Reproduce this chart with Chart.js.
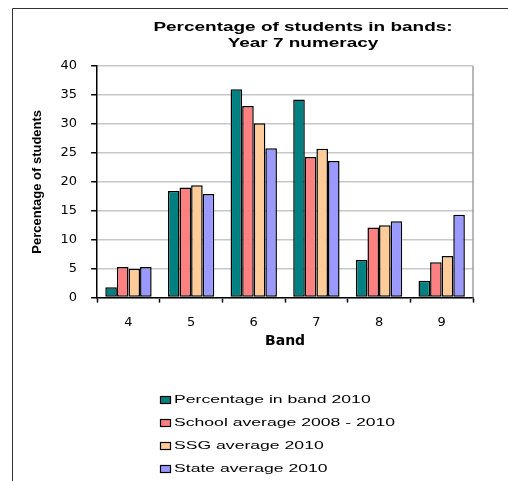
<!DOCTYPE html>
<html>
<head>
<meta charset="utf-8">
<title>Year 7 numeracy bands</title>
<script src="https://cdn.jsdelivr.net/npm/chart.js@4"></script>
<style>
  body { margin: 0; background: #fff; }
  #wrap { position: relative; width: 508px; height: 481px; }
</style>
</head>
<body>
<div id="wrap"><canvas id="bandChart" width="508" height="481"></canvas></div>
<script>
// Bands and percentage of students per series
var bands = ['4', '5', '6', '7', '8', '9'];
var seriesNames = ['Percentage in band 2010', 'School average 2008 - 2010', 'SSG average 2010', 'State average 2010'];
var bandPct2010 = [1.8, 18.4, 36.0, 34.2, 6.5, 2.9];
var schoolAvg = [5.3, 19.0, 33.1, 24.3, 12.1, 6.1];
var ssgAvg = [5.0, 19.4, 30.1, 25.7, 12.5, 7.2];
var stateAvg = [5.3, 17.9, 25.8, 23.6, 13.2, 14.3];
var yMin = 0, yMax = 40, yStep = 5;
var titleLines = ['Percentage of students in bands:', 'Year 7 numeracy'];

var seriesColors = ['#008080', '#FF8080', '#FFCC99', '#9999FF'];
var seriesData = [bandPct2010, schoolAvg, ssgAvg, stateAvg];

// text drawn wide, the way the old spreadsheet export renders it
function wideText(ctx, text, x, y, sx, align) {
  ctx.save();
  ctx.translate(x, y);
  ctx.scale(sx, 1);
  ctx.textAlign = align;
  ctx.textBaseline = 'middle';
  ctx.fillText(text, 0, 0);
  ctx.restore();
}

var decorations = {
  id: 'decorations',
  beforeDraw: function (chart) {
    var ctx = chart.ctx;
    ctx.save();
    ctx.strokeStyle = '#333';
    ctx.lineWidth = 1;
    ctx.beginPath();
    ctx.moveTo(12.5, chart.height);
    ctx.lineTo(12.5, 8.5);
    ctx.lineTo(chart.width, 8.5);
    ctx.stroke();
    ctx.restore();
  },
  beforeDatasetsDraw: function (chart) {
    var a = chart.chartArea, ctx = chart.ctx;
    ctx.save();
    ctx.strokeStyle = '#a0a0a0';
    ctx.lineWidth = 1.5;
    ctx.beginPath();
    ctx.moveTo(a.right, a.top);
    ctx.lineTo(a.right, a.bottom);
    ctx.stroke();
    ctx.restore();
  },
  afterDraw: function (chart) {
    var ctx = chart.ctx;
    ctx.save();
    ctx.fillStyle = '#000';
    ctx.font = 'bold 12px "Liberation Sans", Arial, sans-serif';
    wideText(ctx, titleLines[0], 303, 28, 1.58, 'center');
    wideText(ctx, titleLines[1], 303, 44, 1.58, 'center');

    // legend, one row per series
    ctx.font = '11px "Liberation Sans", Arial, sans-serif';
    chart.data.datasets.forEach(function (ds, i) {
      var y = 400 + i * 23;
      ctx.fillStyle = ds.backgroundColor;
      ctx.fillRect(160.5, y - 3.5, 10, 7);
      ctx.strokeStyle = '#000';
      ctx.lineWidth = 1.2;
      ctx.strokeRect(160.5, y - 3.5, 10, 7);
      ctx.fillStyle = '#000';
      wideText(ctx, ds.label, 174, y, 1.6, 'left');
    });
    ctx.restore();
  }
};

Chart.defaults.color = '#000';

var ctx = document.getElementById('bandChart').getContext('2d');
var bandChart = new Chart(ctx, {
  type: 'bar',
  data: {
    labels: bands,
    datasets: seriesNames.map(function (name, i) {
      return {
        label: name,
        data: seriesData[i],
        backgroundColor: seriesColors[i],
        borderColor: '#000',
        borderWidth: 1.5,
        borderSkipped: false,
        categoryPercentage: 0.74,
        barPercentage: 1.0
      };
    })
  },
  options: {
    responsive: false,
    animation: false,
    layout: { padding: { left: 20, right: 35, top: 66, bottom: 131 } },
    plugins: {
      legend: { display: false },
      tooltip: { enabled: false },
      title: { display: false }
    },
    scales: {
      x: {
        grid: { drawOnChartArea: false, drawTicks: true, tickLength: 5, tickColor: '#000', tickWidth: 1.5 },
        border: { color: '#000', width: 1.5 },
        ticks: { padding: 12, font: { family: '"DejaVu Sans", sans-serif', size: 13 }, color: '#000' },
        title: {
          display: true,
          text: 'Band',
          font: { family: '"DejaVu Sans", sans-serif', size: 14, weight: 'bold' },
          padding: { top: -9, bottom: 0 }
        }
      },
      y: {
        min: yMin,
        max: yMax,
        grid: { color: '#c8c8c8', lineWidth: 1.5, drawTicks: true, tickLength: 6, tickColor: '#000', tickWidth: 1.5 },
        border: { color: '#000', width: 1.5 },
        ticks: { stepSize: yStep, padding: 14, font: { family: '"DejaVu Sans", sans-serif', size: 13 }, color: '#000' },
        title: {
          display: true,
          text: 'Percentage of students',
          font: { family: '"Liberation Sans", Arial, sans-serif', size: 13, weight: 'bold' },
          padding: { top: 10, bottom: 1 }
        }
      }
    }
  },
  plugins: [decorations]
});
</script>
</body>
</html>
